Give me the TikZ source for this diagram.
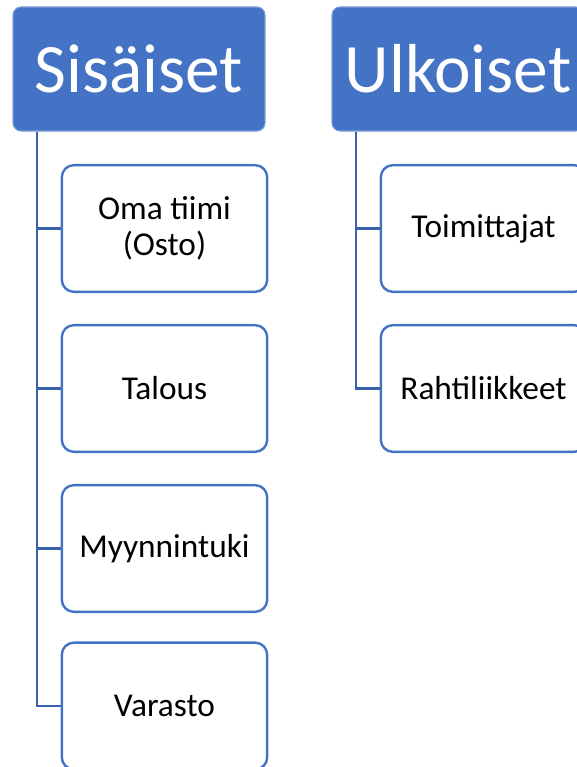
\documentclass[tikz,border=0pt]{standalone}
\usepackage{fontspec}
\setmainfont{Carlito}
\definecolor{hdrblue}{HTML}{4472C4}
\definecolor{linkblue}{HTML}{3A62AC}
\begin{document}
\begin{tikzpicture}[x=0.75pt,y=-0.75pt,
  header/.style={draw=hdrblue!70!white,line width=0.8pt,fill=hdrblue,rounded corners=6pt,
    text=white,font=\fontsize{52}{60}\selectfont,minimum width=189pt,minimum height=93pt,inner sep=0pt},
  child/.style={draw=hdrblue,line width=1.8pt,fill=white,rounded corners=9pt,
    font=\fontsize{25}{27}\selectfont,align=center,minimum width=154pt,minimum height=95pt,inner sep=0pt},
  link/.style={draw=linkblue,line width=1.7pt}]
\useasboundingbox (0,0) rectangle (577,767);
\clip (0,0) rectangle (577,767);
\node[header] (sis) at (139,69) {Sisäiset};
\node[header] (ulk) at (458,69) {Ulkoiset};
\node[child] (oma) at (164.5,228.5) {Oma tiimi\\(Osto)};
\node[child] (tal) at (164.5,388.5) {Talous};
\node[child] (myy) at (164.5,548.5) {Myynnintuki};
\node[child] (var) at (164.5,706) {Varasto};
\node[child] (toi) at (483.5,228.5) {Toimittajat};
\node[child] (rah) at (483.5,388.5) {Rahtiliikkeet};
\coordinate (sa) at (37,0);
\coordinate (ua) at (356,0);
\draw[link] (sis.south -| sa) |- (oma.west);
\draw[link] (sis.south -| sa) |- (tal.west);
\draw[link] (sis.south -| sa) |- (myy.west);
\draw[link] (sis.south -| sa) |- (var.west);
\draw[link] (ulk.south -| ua) |- (toi.west);
\draw[link] (ulk.south -| ua) |- (rah.west);
\end{tikzpicture}
\end{document}
